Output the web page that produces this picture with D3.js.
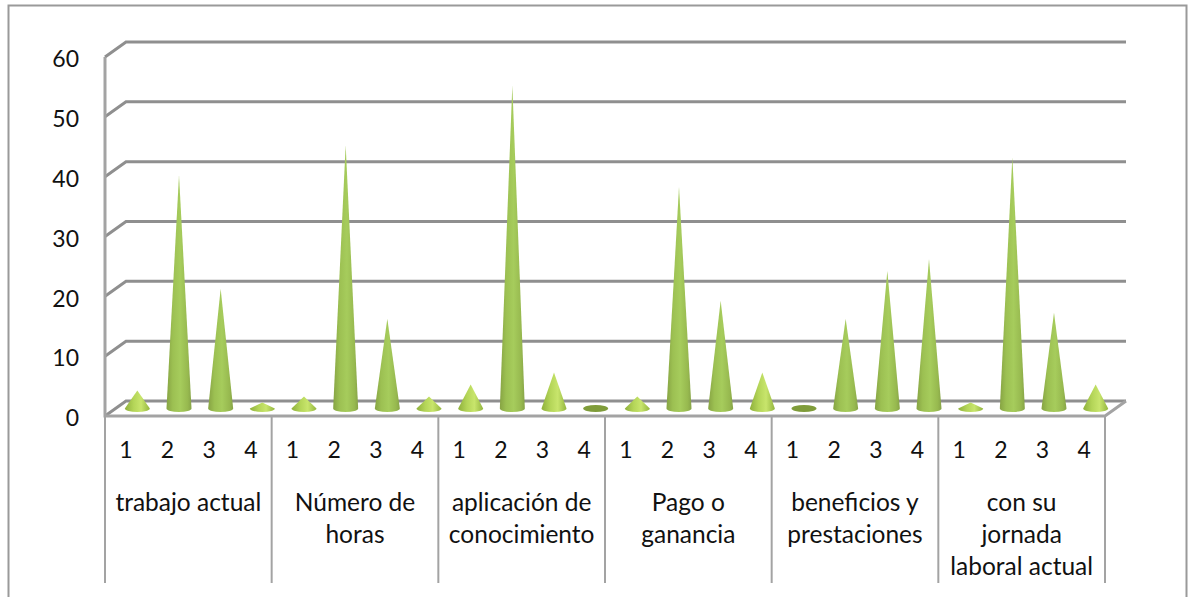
<!DOCTYPE html>
<html>
<head>
<meta charset="utf-8">
<script src="https://cdn.jsdelivr.net/npm/d3@7"></script>
<style>
  body { margin: 0; background: #fff; }
  text { font-family: Lato, "Open Sans", sans-serif; fill: #111; }
</style>
</head>
<body>
<svg id="chart" width="1188" height="597"></svg>
<script>
// values
const groups = ["trabajo actual", "Número de horas", "aplicación de conocimiento", "Pago o ganancia", "beneficios y prestaciones", "con su jornada laboral actual"];
const groupLines = [
    ["trabajo actual"],
    ["Número de", "horas"],
    ["aplicación de", "conocimiento"],
    ["Pago o", "ganancia"],
    ["beneficios y", "prestaciones"],
    ["con su", "jornada", "laboral actual"]
];
const subLabels = ["1", "2", "3", "4"];
const yTicks = [0, 10, 20, 30, 40, 50, 60];
const trabajoActual = [3, 39, 20, 1];
const numeroHoras = [2, 44, 15, 2];
const aplicacion = [4, 54, 6, 0];
const pagoGanancia = [2, 37, 18, 6];
const beneficios = [0, 15, 23, 25];
const jornada = [1, 42, 16, 4];
const seriesValues = [trabajoActual, numeroHoras, aplicacion, pagoGanancia, beneficios, jornada];

const margin = { left: 105, right: 1105, top: 57, bottom: 416 };
const depthX = 21, depthY = 15;   // fake 3d wall offset
const coneWidth = 25, coneRy = 3.5, coneLift = 7.5, coneShift = 11.5;
const gridColor = "#8f8f8f", axisColor = "#a3a3a3";

const svg = d3.select("#chart");

const x = d3.scaleBand().domain(groups).range([margin.left, margin.right]);
const xInner = d3.scaleBand().domain(subLabels).range([0, x.bandwidth()]);
const y = d3.scaleLinear().domain([0, 60]).range([margin.bottom, margin.top]);

// gradients
const defs = svg.append("defs");
function addGradient(id, stops) {
    const g = defs.append("linearGradient").attr("id", id);
    stops.forEach(s => g.append("stop").attr("offset", s[0]).attr("stop-color", s[1]));
}
addGradient("coneTall", [[0, "#86a343"], [0.25, "#9cc052"], [0.55, "#a6cc5c"], [0.85, "#97b94f"], [1, "#86a347"]]);
addGradient("coneShort", [[0, "#8fb03c"], [0.35, "#b4d558"], [0.65, "#c8e56c"], [1, "#94b63f"]]);

// outer frame
svg.append("path")
    .attr("d", "M8.5,597V5.5H1186.5V597")
    .attr("fill", "none")
    .attr("stroke", "#9a9a9a")
    .attr("stroke-width", 2);

// walls and gridlines
const wallLine = d3.line();
svg.append("g").selectAll("path")
    .data(yTicks)
    .join("path")
    .attr("d", d => wallLine([
        [margin.left, y(d)],
        [margin.left + depthX, y(d) - depthY],
        [margin.right + depthX, y(d) - depthY]
    ]))
    .attr("fill", "none")
    .attr("stroke", gridColor)
    .attr("stroke-width", 3);

// floor edge and left wall
svg.append("path")
    .attr("d", wallLine([
        [margin.right + depthX, y(0) - depthY],
        [margin.right, y(0)],
        [margin.left, y(0)],
        [margin.left, margin.top]
    ]))
    .attr("fill", "none")
    .attr("stroke", axisColor)
    .attr("stroke-width", 3);

// group separators under the floor
svg.append("g").selectAll("line")
    .data(groups.map(g => x(g)).concat(margin.right))
    .join("line")
    .attr("x1", d => d).attr("x2", d => d)
    .attr("y1", y(0)).attr("y2", 583)
    .attr("stroke", axisColor)
    .attr("stroke-width", 2);

// y axis
const yAxis = svg.append("g")
    .attr("transform", `translate(${margin.left},0)`)
    .call(d3.axisLeft(y).tickValues(yTicks).tickSize(0).tickPadding(26));
yAxis.select(".domain").remove();
yAxis.selectAll("text").style("font-size", "23px").attr("dy", "0.42em");

// cones
const cols = svg.append("g").selectAll("g")
    .data(groups)
    .join("g")
    .attr("transform", d => `translate(${x(d)},0)`);

function conePath(v) {
    const cx = xInner.bandwidth() / 2 + coneShift;
    const base = y(0) - coneLift;
    const apex = y(v) - coneLift;
    const r = coneWidth / 2;
    if (v === 0) {
        return `M${cx - r},${base}A${r},${coneRy} 0 1 1 ${cx + r},${base}A${r},${coneRy} 0 1 1 ${cx - r},${base}Z`;
    }
    return `M${cx},${apex}L${cx - r},${base}A${r},${coneRy} 0 0 0 ${cx + r},${base}Z`;
}

cols.each(function (g, i) {
    d3.select(this).selectAll("path")
        .data(seriesValues[i])
        .join("path")
        .attr("transform", (d, j) => `translate(${xInner(subLabels[j])},0)`)
        .attr("d", d => conePath(d))
        .attr("fill", d => d === 0 ? "#7f9c3a" : d < 8 ? "url(#coneShort)" : "url(#coneTall)");
});

// x labels, inner then outer level
cols.each(function () {
    d3.select(this).selectAll("text.sub")
        .data(subLabels)
        .join("text")
        .attr("class", "sub")
        .attr("x", d => xInner(d) + xInner.bandwidth() / 2)
        .attr("y", 458)
        .attr("text-anchor", "middle")
        .style("font-size", "23px")
        .text(d => d);
});

cols.each(function (g, i) {
    d3.select(this).selectAll("text.cat")
        .data(groupLines[i])
        .join("text")
        .attr("class", "cat")
        .attr("x", x.bandwidth() / 2)
        .attr("y", (d, k) => 511 + k * 32)
        .attr("text-anchor", "middle")
        .style("font-size", "24.5px")
        .text(d => d);
});
</script>
</body>
</html>
